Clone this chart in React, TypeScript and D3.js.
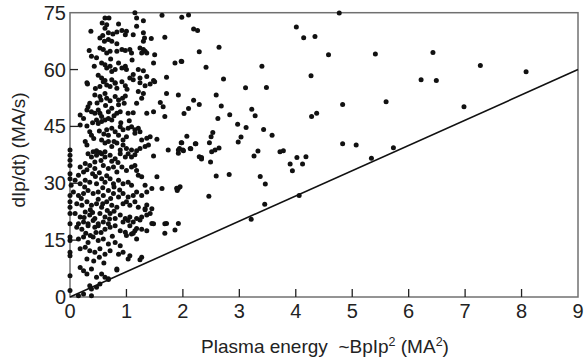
import React from "react";
import * as d3 from "d3";

const xTicks = [0, 1, 2, 3, 4, 5, 6, 7, 8, 9];
const yTicks = [0, 15, 30, 45, 60, 75];
const xTitle = "Plasma energy  ~BpIp";
const yTitle = "dIp/dt) (MA/s)";
const lineEnds: [number, number][] = [[0, 0], [9, 60]];

// dense cluster (low energy)
const clusterTop: [number, number][] = [
  [1.15, 75.0], [1.63, 74.3], [0.62, 73.6], [0.69, 73.6], [0.57, 72.3], [0.65, 71.8], [0.62, 70.9], [0.86, 72.0],
  [1.18, 73.6], [1.3, 72.9], [1.18, 71.4], [0.37, 70.1], [0.68, 69.7], [0.76, 69.4], [0.83, 69.9], [0.92, 70.3],
  [1.0, 70.1], [0.98, 69.2], [1.12, 69.2], [1.3, 69.7], [1.32, 68.3], [1.3, 67.5], [0.53, 68.3], [0.61, 67.5],
  [0.68, 67.9], [0.74, 67.5], [1.44, 68.2], [1.68, 68.5], [0.83, 66.8], [0.34, 65.0], [0.38, 63.5], [0.47, 63.1],
  [0.53, 65.7], [0.59, 65.3], [0.65, 64.4], [0.71, 64.8], [0.83, 64.8], [0.92, 65.3], [0.98, 65.0], [1.06, 65.3],
  [1.09, 64.4], [1.24, 65.7], [1.3, 65.3], [1.33, 64.8], [1.27, 64.4], [1.36, 64.4], [1.5, 63.9], [0.56, 61.7],
  [0.62, 61.3], [0.65, 60.4], [0.71, 60.9], [0.74, 59.5], [0.8, 60.0], [0.86, 61.7], [0.92, 60.4], [0.98, 60.9],
  [1.0, 60.0], [0.43, 60.9], [1.12, 58.7], [1.21, 60.0], [1.3, 59.7], [1.36, 58.2], [1.24, 57.8], [1.48, 61.7],
  [0.3, 56.5], [0.56, 57.8], [0.62, 57.1], [0.74, 57.3], [0.8, 56.5], [1.06, 57.8], [1.12, 57.3], [1.48, 57.1],
  [1.71, 58.0], [0.31, 56.2], [0.53, 55.5], [0.59, 56.8], [0.65, 55.9], [0.71, 55.5], [0.8, 56.4], [0.83, 55.1],
  [0.98, 55.7], [1.01, 54.8], [1.24, 56.5], [1.33, 55.7], [1.42, 56.2], [1.5, 56.8], [1.21, 54.2], [0.44, 53.3],
  [0.53, 52.9], [0.62, 53.7], [0.55, 52.0], [0.65, 52.4], [0.71, 51.8], [0.8, 52.9], [0.86, 52.0], [0.93, 52.4],
  [0.98, 53.0], [0.96, 51.1], [0.86, 50.7], [0.35, 51.1], [0.32, 50.2], [0.3, 49.3], [0.38, 48.9], [0.44, 48.5],
  [0.5, 49.3], [0.53, 48.5], [0.56, 47.6], [0.47, 46.7], [0.5, 45.8], [0.56, 46.3], [0.62, 46.7], [0.68, 47.1],
  [0.74, 46.7], [0.68, 48.9], [0.74, 49.8], [0.83, 48.5], [0.89, 48.9], [1.03, 48.5], [1.12, 48.6], [1.18, 51.1],
  [1.27, 52.4], [1.3, 53.7], [1.36, 48.5], [1.48, 48.9], [1.6, 51.3], [1.65, 50.2], [1.71, 53.7], [1.68, 47.6],
  [0.18, 48.0], [0.24, 47.1], [0.18, 45.4], [0.3, 45.1], [0.35, 43.6], [0.38, 42.7], [0.65, 44.1], [0.74, 44.5],
  [0.8, 43.6], [0.68, 42.7], [0.89, 44.9], [0.94, 44.1], [1.03, 44.5], [1.09, 44.9], [1.15, 44.1], [1.21, 44.5],
  [1.24, 43.6], [1.15, 43.2], [0.86, 42.7], [1.0, 42.3], [0.94, 41.4], [1.27, 41.4], [1.36, 41.9], [1.42, 42.3],
  [0.27, 41.0], [0.3, 40.1], [0.56, 41.4], [0.62, 40.6], [0.68, 41.0], [0.74, 39.7], [0.83, 40.6], [0.94, 40.1],
  [1.0, 39.2], [0.89, 38.8], [1.09, 38.8], [1.18, 38.6], [1.24, 39.2], [1.33, 39.7], [1.39, 40.1], [1.54, 41.6],
  [0.0, 38.8], [0.41, 38.3], [0.47, 38.6], [0.53, 38.1], [0.62, 38.3], [1.74, 38.8],
  [0.45, 55.0], [0.5, 58.5], [0.4, 46.0], [0.6, 43.0], [0.78, 47.8], [1.05, 46.5], [0.92, 56.8], [1.1, 62.5],
  [0.58, 69.0], [0.72, 62.8], [0.48, 51.2], [0.63, 50.5], [0.9, 46.0], [0.42, 41.8], [0.52, 43.8], [0.78, 41.0],
];

const clusterBottom: [number, number][] = [
  [0.0, 37.4], [0.0, 36.1], [0.0, 34.7], [0.0, 32.5], [0.0, 31.2], [0.02, 29.5], [0.0, 26.8], [0.0, 25.1],
  [0.0, 23.7], [0.0, 22.0], [0.0, 19.3], [0.32, 37.8], [0.38, 36.9], [0.47, 37.4], [0.56, 37.8], [0.62, 36.9],
  [0.71, 37.4], [0.8, 36.5], [0.89, 37.8], [0.98, 36.9], [1.03, 37.8], [1.09, 36.9], [1.15, 37.5], [1.48, 37.2],
  [0.18, 34.3], [0.27, 35.2], [0.35, 34.7], [0.44, 33.9], [0.24, 33.0], [0.15, 32.1], [0.59, 34.7], [0.68, 33.9],
  [0.77, 34.3], [0.83, 33.0], [0.92, 34.3], [1.0, 33.4], [1.09, 34.3], [1.15, 34.7], [1.18, 33.4], [1.21, 32.1],
  [1.27, 31.7], [0.09, 30.8], [0.18, 29.9], [0.27, 30.8], [0.35, 30.3], [0.47, 29.9], [0.56, 31.2], [0.62, 30.3],
  [0.71, 31.2], [0.77, 29.9], [0.86, 30.8], [0.94, 29.9], [1.03, 30.3], [1.09, 29.5], [1.33, 29.5], [1.45, 28.6],
  [1.63, 28.6], [0.06, 27.7], [0.15, 26.8], [0.24, 27.3], [0.32, 28.1], [0.41, 27.3], [0.5, 27.7], [0.59, 26.8],
  [0.68, 28.1], [0.77, 27.3], [0.86, 26.4], [0.94, 27.3], [1.03, 26.4], [1.12, 26.8], [1.18, 27.7], [1.27, 26.8],
  [1.36, 27.7], [0.12, 24.6], [0.21, 24.2], [0.3, 25.1], [0.38, 24.2], [0.47, 24.6], [0.56, 23.7], [0.65, 25.1],
  [0.74, 24.2], [0.83, 23.7], [0.94, 24.6], [1.0, 25.1], [1.06, 24.2], [1.15, 25.1], [1.21, 23.7], [1.33, 23.3],
  [0.09, 22.0], [0.18, 21.1], [0.27, 22.4], [0.35, 21.6], [0.44, 20.7], [0.53, 22.0], [0.62, 21.1], [0.71, 22.0],
  [0.8, 20.7], [0.89, 21.6], [0.98, 20.7], [1.06, 21.1], [1.18, 20.7], [1.27, 21.1], [1.36, 21.6], [1.48, 19.3],
  [1.68, 19.3], [1.42, 22.0], [1.45, 23.3], [0.15, 19.3], [0.24, 19.8], [0.32, 19.3], [0.41, 20.2], [0.5, 19.3],
  [0.59, 19.8], [0.68, 19.3], [0.94, 19.8], [1.03, 20.2], [1.12, 19.8],
  [0.0, 15.8], [0.0, 14.9], [0.0, 11.8], [0.0, 10.9], [0.0, 5.6], [0.0, 1.7], [0.12, 18.4], [0.21, 17.9],
  [0.32, 18.8], [0.44, 18.4], [0.5, 18.8], [0.62, 17.9], [0.71, 18.4], [0.8, 18.8], [0.89, 17.5], [0.98, 17.1],
  [1.06, 18.8], [1.15, 17.5], [1.27, 17.9], [1.36, 17.5], [0.15, 15.3], [0.24, 15.8], [0.32, 14.4], [0.41, 15.8],
  [0.5, 14.9], [0.59, 15.3], [0.68, 14.0], [0.8, 14.4], [0.89, 13.5], [1.0, 16.2], [1.09, 16.6], [1.18, 15.3],
  [0.18, 12.7], [0.27, 13.1], [0.35, 12.2], [0.44, 11.8], [0.53, 12.7], [0.62, 11.3], [0.71, 12.2], [0.86, 11.3],
  [0.94, 11.8], [1.06, 10.9], [1.03, 10.0], [1.27, 10.5], [1.24, 9.8], [0.18, 7.8], [0.24, 6.9], [0.3, 6.1],
  [0.38, 7.4], [0.47, 5.2], [0.56, 6.1], [0.62, 5.2], [0.68, 4.6], [0.83, 7.4], [0.35, 3.0], [0.38, 2.1],
  [0.47, 2.6], [0.53, 3.4], [0.68, 4.8], [0.15, 0.3], [0.24, 0.8], [0.38, 0.3], [0.83, 7.1], [1.12, 16.8],
  [1.18, 18.1], [1.24, 20.3], [1.33, 23.0], [1.36, 24.3],
  [0.4, 32.5], [0.52, 32.8], [0.65, 32.0], [0.74, 35.8], [0.44, 35.6], [0.58, 28.8], [0.72, 26.0], [0.5, 25.8],
  [0.36, 23.0], [0.66, 22.8], [0.78, 29.0], [0.28, 16.8], [0.55, 17.0], [0.75, 16.0], [0.42, 9.5], [0.6, 9.0],
  [0.3, 33.6], [0.55, 36.0], [0.85, 35.5], [0.26, 29.0], [0.45, 31.8], [0.88, 28.2], [0.2, 26.0], [0.4, 22.3],
  [0.58, 24.6], [0.78, 22.6], [0.25, 21.0], [0.46, 17.0], [0.7, 20.6], [0.36, 16.2], [0.52, 10.5], [0.3, 10.0],
];

// scattered high-energy shots
const sparsePoints: [number, number][] = [
  [1.98, 73.8], [2.1, 74.4], [2.19, 70.7], [2.26, 70.3], [4.01, 71.2], [4.14, 68.4], [4.34, 68.7], [4.77, 74.9],
  [4.58, 63.9], [5.41, 64.1], [2.29, 64.7], [2.64, 65.9], [1.98, 62.1], [2.41, 60.6], [3.4, 60.9], [2.72, 57.5],
  [4.27, 58.4], [3.11, 55.2], [3.48, 55.3], [2.59, 53.3], [2.19, 51.9], [2.29, 50.8], [2.68, 50.4], [2.1, 49.7],
  [2.02, 48.4], [3.22, 49.5], [3.28, 47.8], [2.83, 48.1], [2.62, 47.1], [4.83, 50.8], [5.6, 51.5], [4.28, 47.6],
  [4.37, 48.5], [2.97, 45.6], [3.12, 44.7], [3.43, 44.2], [3.58, 42.7], [2.07, 42.4], [2.53, 43.4], [2.5, 42.3],
  [3.03, 42.2], [2.98, 40.9], [1.98, 40.7], [2.22, 40.4], [2.47, 40.7], [2.0, 38.8], [2.13, 39.2], [2.51, 38.3],
  [2.57, 38.8], [2.64, 39.3], [3.33, 38.5], [3.72, 38.3], [3.78, 38.6], [4.83, 40.4], [5.07, 40.1], [5.73, 39.4],
  [2.29, 37.0], [2.33, 36.8], [2.33, 36.4], [3.26, 37.2], [2.49, 35.6], [4.02, 36.8], [4.18, 37.0], [3.9, 35.1],
  [4.12, 35.1], [3.94, 33.3], [5.34, 36.6], [2.59, 31.9], [2.82, 32.3], [3.37, 31.8], [6.43, 64.5], [6.22, 57.3],
  [6.49, 57.1], [7.27, 61.1], [8.08, 59.4], [6.98, 50.2], [3.46, 29.8], [2.46, 26.6], [3.45, 24.5], [4.06, 26.8],
  [3.21, 20.5], [1.68, 16.8], [1.86, 17.7], [1.92, 19.4], [1.71, 19.4], [1.89, 28.7], [1.95, 29.1], [1.54, 31.7],
  [1.45, 19.4], [1.92, 53.3], [1.97, 40.7], [1.94, 39.2], [2.01, 38.6], [1.92, 37.9], [2.14, 39.1], [2.23, 40.4],
  [1.92, 28.7], [1.9, 28.1], [1.92, 38.8], [1.86, 61.7], [1.97, 62.2],
];

const W = 585;
const H = 362;
const left = 70;
const right = 578;
const top = 12.7;
const bottom = 297;

export default function App() {
  const x = d3.scaleLinear().domain([0, 9]).range([left, right]);
  const y = d3.scaleLinear().domain([0, 75]).range([bottom, top]);
  const all = [...clusterTop, ...clusterBottom, ...sparsePoints];
  const line = d3.line<[number, number]>().x((d) => x(d[0])).y((d) => y(d[1]));
  const font = "'Liberation Sans', Arial, Helvetica, sans-serif";
  const axisColor = "#707070";

  return (
    <svg width={W} height={H} style={{ position: "absolute", left: 0, top: 0, background: "#fff" }} fontFamily={font}>
      <rect x={left} y={top} width={right - left} height={bottom - top} fill="none" stroke={axisColor} strokeWidth={1.5} />
      {xTicks.filter((t) => t > 0 && t < 9).map((t) => (
        <line key={"xt" + t} x1={x(t)} x2={x(t)} y1={bottom} y2={bottom - 8} stroke="#222" strokeWidth={1.3} />
      ))}
      {yTicks.filter((t) => t > 0 && t < 75).map((t) => (
        <line key={"yt" + t} x1={left} x2={left + 8} y1={y(t)} y2={y(t)} stroke="#222" strokeWidth={1.3} />
      ))}
      {xTicks.map((t) => (
        <text key={"xl" + t} x={x(t)} y={bottom + 21} textAnchor="middle" fontSize={20} fill="#222">{t}</text>
      ))}
      {yTicks.map((t) => (
        <text key={"yl" + t} x={left - 4} y={y(t) + 7} textAnchor="end" fontSize={20} fill="#222">{t}</text>
      ))}
      <path d={line(lineEnds) || ""} stroke="#111" strokeWidth={1.6} fill="none" />
      {all.map((p, i) => (
        <circle key={i} cx={x(p[0])} cy={y(p[1])} r={2.5} fill="#111" />
      ))}
      <text x={325} y={353} textAnchor="middle" fontSize={19} fill="#222" style={{ whiteSpace: "pre" }}>
        {xTitle}
        <tspan fontSize={12.5} dy={-7}>2</tspan>
        <tspan dy={7}> (MA</tspan>
        <tspan fontSize={12.5} dy={-7}>2</tspan>
        <tspan dy={7}>)</tspan>
      </text>
      <text transform={`translate(25,150) rotate(-90)`} textAnchor="middle" fontSize={19} fill="#222">{yTitle}</text>
    </svg>
  );
}
